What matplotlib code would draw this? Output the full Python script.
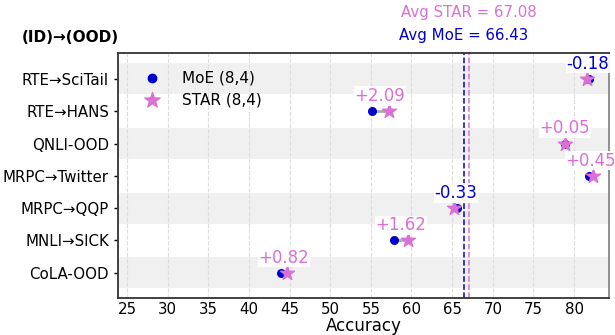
import matplotlib
matplotlib.use('Agg')
from matplotlib import pyplot as plt
import numpy as np

tasks = ['CoLA-OOD', 'MNLI→SICK', 'MRPC→QQP', 'MRPC→Twitter', 'QNLI-OOD', 'RTE→HANS', 'RTE→SciTail']
moe = [43.91, 57.90, 65.60, 81.85, 78.85, 55.10, 81.80]
star = [44.73, 59.52, 65.27, 82.30, 78.90, 57.19, 81.62]
xticks = [25, 30, 35, 40, 45, 50, 55, 60, 65, 70, 75, 80]

c_moe = '#0000CD'
c_star = '#DA70D6'

moe = np.array(moe)
star = np.array(star)
y = np.arange(len(tasks))
avg_moe = moe.mean()
avg_star = star.mean()

fig = plt.figure(figsize=(6.15, 3.35), dpi=100)
ax = fig.add_axes([118/615, 37/335, 491/615, 245/335])

# shaded bands on every other row
for i in y:
    if i % 2 == 0:
        ax.axhspan(i - 0.48, i + 0.48, color='#f0f0f0', zorder=0, lw=0)

for xt in xticks:
    ax.axvline(xt, color='#dddddd', ls='--', lw=0.8, zorder=0.5)

for i in y:
    ax.plot([moe[i], star[i]], [i, i], color='#aaaaaa', lw=2, zorder=1)

ax.scatter(moe, y, color=c_moe, s=30, zorder=3, label='MoE (8,4)')
ax.scatter(star, y, color=c_star, marker='*', s=110, zorder=4, label='STAR (8,4)')

for i in y:
    d = star[i] - moe[i]
    col = c_star if d >= 0 else c_moe
    ax.text((moe[i] + star[i]) / 2, i + 0.47, '%+.2f' % d if d >= 0 else '%.2f' % d,
            color=col, fontsize=12, ha='center', va='center', zorder=5,
            bbox=dict(facecolor='white', edgecolor='none', pad=0.5, alpha=0.9))

ax.axvline(avg_moe, color=c_moe, ls='--', lw=1.1, zorder=2)
ax.axvline(avg_star, color=c_star, ls='--', lw=1.1, zorder=2)
ax.text(avg_moe, 1.04, 'Avg MoE = %.2f' % avg_moe, transform=ax.get_xaxis_transform(),
        color=c_moe, ha='center', va='bottom', fontsize=10.8)
ax.text(avg_star, 1.135, 'Avg STAR = %.2f' % avg_star, transform=ax.get_xaxis_transform(),
        color=c_star, ha='center', va='bottom', fontsize=10.8)

ax.set_yticks(y)
ax.set_yticklabels(tasks, fontsize=10.8)
ax.set_xticks(xticks)
ax.tick_params(axis='x', length=0, labelsize=10.8, pad=3)
ax.tick_params(axis='y', length=3, width=1)
ax.set_xlim(23.9, 84.3)
ax.set_ylim(-0.78, 6.8)
ax.set_xlabel('Accuracy', fontsize=12, labelpad=0)

for s in ['left', 'bottom', 'top']:
    ax.spines[s].set_color('#333333')
    ax.spines[s].set_linewidth(1.3)
ax.spines['right'].set_color('#888888')
ax.spines['right'].set_linewidth(1.3)

fig.text(70/615, 1 - 38/335, '(ID)→(OOD)', fontsize=11, fontweight='bold', ha='center', va='center')

ax.legend(loc='upper left', frameon=False, fontsize=11, bbox_to_anchor=(0.01, 0.985),
          handletextpad=1.0, labelspacing=0.45, markerscale=1.1)

fig.savefig('out.png', dpi=100)
